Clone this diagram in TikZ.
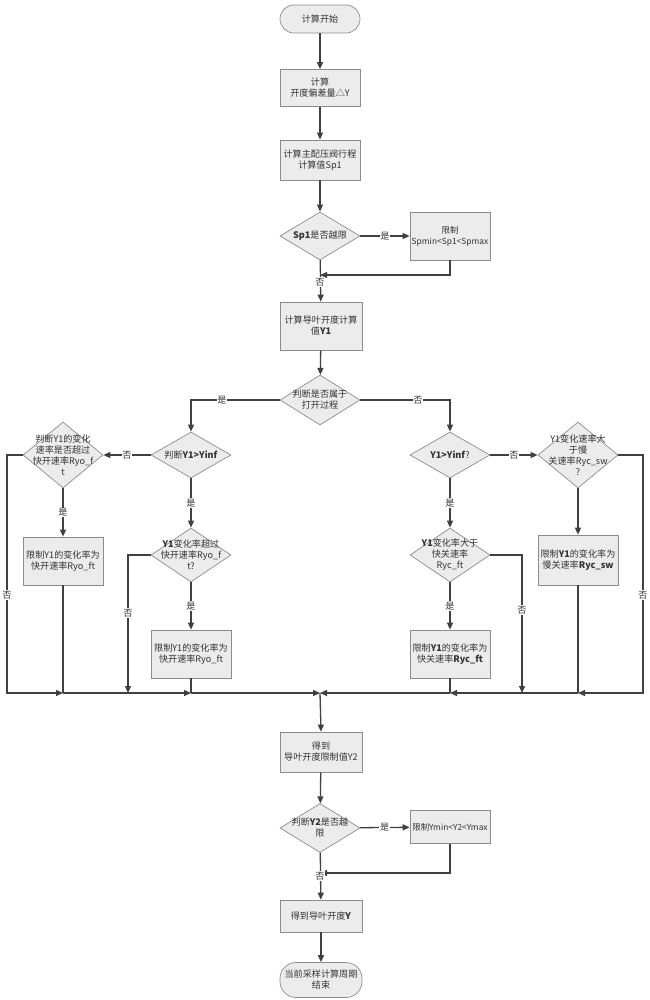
\documentclass[tikz,border=0pt]{standalone}
\usepackage{fontspec}
\newfontfamily\cjk{Noto Sans CJK SC}
\usetikzlibrary{arrows.meta,shapes.geometric}
\definecolor{ln}{HTML}{404040}
\definecolor{bd}{HTML}{8C8C8C}
\definecolor{fl}{HTML}{ECECEC}
\definecolor{tx}{HTML}{333333}
\tikzset{
  txt/.style={font=\cjk\fontsize{9.1}{11}\selectfont, text=tx, align=center},
  boxn/.style={txt, draw=bd, fill=fl, line width=0.7pt, minimum width=80pt, minimum height=40pt, inner sep=0.5pt},
  limbox/.style={boxn, font=\cjk\fontsize{8.4}{11}\selectfont},
  term/.style={boxn, rounded corners=14pt},
  dia/.style={txt, draw=bd, fill=fl, line width=0.7pt, shape=diamond, inner sep=-18pt, minimum width=80pt, minimum height=48pt},
  line/.style={draw=ln, line width=1.3pt},
  arr/.style={line, -{Triangle[length=7pt,width=6pt]}},
  lab/.style={txt, fill=white, inner sep=0.8pt}
}
\begin{document}
\begin{tikzpicture}[x=1pt,y=-1pt]
\useasboundingbox (0,0) rectangle (649,1000);
% main column
\node[term, minimum height=28pt] (start) at (320,19) {计算开始};
\node[boxn, minimum height=37pt] (b1) at (320,88) {计算\\开度偏差量△Y};
\node[boxn] (b2) at (320,160) {计算主配压阀行程\\计算值Sp1};
\node[dia] (d1) at (320,236) {\textbf{Sp1}是否越限};
\node[limbox, minimum height=48pt] (lim1) at (450,236) {限制\\Spmin<Sp1<Spmax};
\node[boxn, minimum width=82pt, minimum height=48pt] (b3) at (321,326) {计算导叶开度计算\\值\textbf{Y1}};
\node[dia, minimum height=50pt] (d7) at (320,400) {判断是否属于\\打开过程};
% left branch
\node[dia, minimum height=46pt] (d8) at (191,455) {判断\textbf{Y1>Yinf}};
\node[dia, minimum height=66pt] (d9) at (63,455) {判断Y1的变化\\速率是否超过\\快开速率Ryo\_f\\t};
\node[boxn, minimum height=48pt] (b10) at (63,561) {限制Y1的变化率为\\快开速率Ryo\_ft};
\node[dia, minimum height=54pt] (d11) at (191,555) {\textbf{Y1}变化率超过\\快开速率Ryo\_f\\t?};
\node[boxn, minimum height=48pt] (b12) at (191,654) {限制Y1的变化率为\\快开速率Ryo\_ft};
% right branch
\node[dia, minimum height=46pt] (d13) at (450,455) {\textbf{Y1>Yinf}?};
\node[dia, minimum height=66pt] (d14) at (578,455) {Y1变化速率大\\于慢\\关速率Ryc\_sw\\?};
\node[boxn, minimum height=50pt] (b15) at (578,560) {限制\textbf{Y1}的变化率为\\慢关速率\textbf{Ryc\_sw}};
\node[dia, minimum height=54pt] (d16) at (450,555) {\textbf{Y1}变化率大于\\快关速率\\Ryc\_ft};
\node[boxn, minimum height=48pt] (b17) at (450,654) {限制\textbf{Y1}的变化率为\\快关速率\textbf{Ryc\_ft}};
% lower column
\node[boxn, minimum width=82pt] (b18) at (321,752) {得到\\导叶开度限制值Y2};
\node[dia, minimum height=49pt] (d19) at (320,828) {判断\textbf{Y2}是否越\\限};
\node[limbox, minimum height=33pt] (lim2) at (450,827) {限制Ymin<Y2<Ymax};
\node[boxn, minimum width=82pt, minimum height=32pt] (b21) at (321,916) {得到导叶开度\textbf{Y}};
\node[term, minimum width=82pt, minimum height=35pt, rounded corners=16pt] (end) at (321,980) {当前采样计算周期\\结束};
% junction coordinates
\coordinate (j1) at (320,275);
\coordinate (j2) at (320,873);
\coordinate (m) at (320,693);
\coordinate (L0) at (7,693);
\coordinate (La) at (63,693);
\coordinate (Lb) at (128,693);
\coordinate (Lc) at (191,693);
\coordinate (R0) at (643,693);
\coordinate (Ra) at (578,693);
\coordinate (Rb) at (522,693);
\coordinate (Rc) at (450,693);
% top connectors
\draw[arr] (start) -- (b1);
\draw[arr] (b1) -- (b2);
\draw[arr] (b2) -- (d1);
\draw[arr] (d1) -- (lim1) node[lab, midway] (l1) {是};
\draw[arr] (d1) -- (b3);
\draw[arr] (lim1.south) |- (j1);
\node[lab] (l2) at (320,282) {否};
\draw[arr] (b3) -- (d7);
\draw[arr] (d7.west) -| (d8.north);
\node[lab] (l3) at (222,400) {是};
\draw[arr] (d7.east) -| (d13.north);
\node[lab] (l4) at (418,400) {否};
% left branch connectors
\draw[arr] (d8.west) -- (d9.east) node[lab, midway] (l5) {否};
\draw[arr] (d9.south) -- (b10.north) node[lab, midway] (l6) {是};
\draw[arr] (d8.south) -- (d11.north) node[lab, midway] (l7) {是};
\draw[arr] (d11.south) -- (b12.north) node[lab, midway] (l8) {是};
\draw[arr] (d9.west) -| (L0) -- (La);
\node[lab] (l9) at (7,595) {否};
\draw[line] (b10.south) -- (La);
\draw[arr] (d11.west) -| (Lb);
\node[lab] (l10) at (128,613) {否};
\draw[arr] (La) -- (Lc);
\draw[line] (b12.south) -- (Lc);
\draw[arr] (Lc) -- (m);
% right branch connectors
\draw[arr] (d13.east) -- (d14.west) node[lab, midway] (l11) {否};
\draw[arr] (d13.south) -- (d16.north) node[lab, midway] (l12) {是};
\draw[arr] (d16.south) -- (b17.north) node[lab, midway] (l13) {是};
\draw[arr] (d14.south) -- (b15.north);
\draw[arr] (d14.east) -| (R0) -- (Ra);
\node[lab] (l14) at (643,595) {否};
\draw[line] (b15.south) -- (Ra);
\draw[arr] (d16.east) -| (Rb);
\node[lab] (l15) at (522,610) {否};
\draw[arr] (Ra) -- (Rc);
\draw[line] (b17.south) -- (Rc);
\draw[arr] (Rc) -- (m);
% lower connectors
\draw[arr] (m) -- (b18.north);
\draw[arr] (b18) -- (d19);
\draw[arr] (d19) -- (lim2) node[lab, midway] (l16) {是};
\draw[arr] (d19) -- (b21);
\draw[arr] (lim2.south) |- (j2);
\node[lab] (l17) at (320,876) {否};
\draw[arr] (b21) -- (end);
\end{tikzpicture}
\end{document}
